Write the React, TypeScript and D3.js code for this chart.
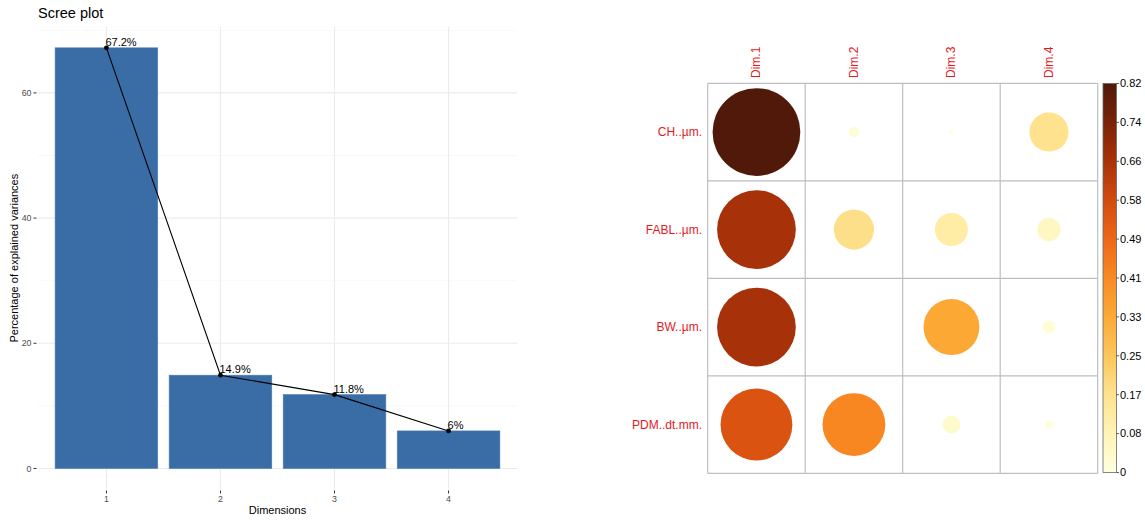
import React from "react";
import * as d3 from "d3";

// Scree plot data: percentage of explained variance per dimension
const dimensions = ["1", "2", "3", "4"];
const explainedVariance = [67.2, 14.9, 11.8, 6.0];
const varianceLabels = ["67.2%", "14.9%", "11.8%", "6%"];
const yTicks = [0, 20, 40, 60];
const yMinorTicks = [10, 30, 50, 70];

// cos2 of variables on each dimension
const variables = ["CH..µm.", "FABL..µm.", "BW..µm.", "PDM..dt.mm."];
const dimNames = ["Dim.1", "Dim.2", "Dim.3", "Dim.4"];
const cos2CH = [0.82, 0.012, 0.0017, 0.163];
const cos2FABL = [0.66, 0.172, 0.117, 0.058];
const cos2BW = [0.66, 0.0003, 0.333, 0.017];
const cos2PDM = [0.55, 0.42, 0.035, 0.007];
const cos2Rows = [cos2CH, cos2FABL, cos2BW, cos2PDM];
const legendLabels = ["0", "0.08", "0.17", "0.25", "0.33", "0.41", "0.49", "0.58", "0.66", "0.74", "0.82"];
const cos2Max = 0.82;

// sequential palette (light yellow -> dark brown)
const paletteStops = [0, 0.1, 0.2, 0.3, 0.4, 0.5, 0.6, 0.7, 0.8, 0.9, 1];
const paletteColors = [
  "#FFFFDE", "#FFF4B6", "#FEE28E", "#FDC65A", "#FBAA36", "#F98A23",
  "#EE6716", "#D24B0F", "#A93208", "#7A2208", "#511909",
];

const FONT = "'Liberation Sans', Arial, sans-serif";

function ScreePlot() {
  const left = 38, right = 517, top = 26.8, bottom = 489.5;
  const x = d3.scalePoint<string>().domain(dimensions).range([left, right]).padding(0.6);
  const step = x.step();
  const barW = step * 0.9;
  const y = d3.scaleLinear().domain([-3.36, 70.56]).range([bottom, top]);
  const line = d3
    .line<number>()
    .x((_, i) => x(dimensions[i]) as number)
    .y((d) => y(d));

  return (
    <g fontFamily={FONT}>
      <text x={38} y={18} fontSize={14.5} fill="#000">Scree plot</text>
      {/* grid */}
      {yMinorTicks.map((t) => (
        <line key={"mi" + t} x1={left} x2={right} y1={y(t)} y2={y(t)} stroke="#F3F3F3" strokeWidth={0.6} />
      ))}
      {yTicks.map((t) => (
        <line key={"ma" + t} x1={left} x2={right} y1={y(t)} y2={y(t)} stroke="#EBEBEB" strokeWidth={1.1} />
      ))}
      {dimensions.map((d) => (
        <line key={"v" + d} x1={x(d)} x2={x(d)} y1={top} y2={bottom} stroke="#EBEBEB" strokeWidth={1.1} />
      ))}
      {/* bars */}
      {explainedVariance.map((v, i) => (
        <rect
          key={"b" + i}
          x={(x(dimensions[i]) as number) - barW / 2}
          y={y(v)}
          width={barW}
          height={y(0) - y(v)}
          fill="#3A6CA5"
          stroke="#4A7CB4"
          strokeWidth={0.6}
        />
      ))}
      <path d={line(explainedVariance) || ""} fill="none" stroke="#000" strokeWidth={1.1} />
      {explainedVariance.map((v, i) => (
        <circle key={"p" + i} cx={x(dimensions[i])} cy={y(v)} r={2.4} fill="#000" />
      ))}
      {explainedVariance.map((v, i) => (
        <text key={"l" + i} x={(x(dimensions[i]) as number) - 1} y={y(v) - 2} fontSize={11} fill="#000">
          {varianceLabels[i]}
        </text>
      ))}
      {/* axes */}
      {yTicks.map((t) => (
        <g key={"yt" + t}>
          <line x1={33.5} x2={36.5} y1={y(t)} y2={y(t)} stroke="#333" strokeWidth={1} />
          <text x={31.5} y={y(t)} dy="0.35em" fontSize={8.8} fill="#4D4D4D" textAnchor="end">{t}</text>
        </g>
      ))}
      {dimensions.map((d) => (
        <g key={"xt" + d}>
          <line x1={x(d)} x2={x(d)} y1={490.5} y2={493.5} stroke="#333" strokeWidth={1} />
          <text x={x(d)} y={502} fontSize={8.8} fill="#4D4D4D" textAnchor="middle">{d}</text>
        </g>
      ))}
      <text x={(left + right) / 2} y={514} fontSize={11} fill="#000" textAnchor="middle">Dimensions</text>
      <text
        transform={`translate(18,${(top + bottom) / 2}) rotate(-90)`}
        fontSize={11}
        fill="#000"
        textAnchor="middle"
      >
        Percentage of explained variances
      </text>
    </g>
  );
}

function Cos2Plot() {
  const gx0 = 707.7, gx1 = 1097.7, gy0 = 83.3, gy1 = 473.3;
  const xs = d3.scaleBand<string>().domain(dimNames).range([gx0, gx1]);
  const ys = d3.scaleBand<string>().domain(variables).range([gy0, gy1]);
  const cell = xs.bandwidth();
  const rScale = d3.scaleSqrt().domain([0, cos2Max]).range([0, (cell * 0.9) / 2]);
  const color = d3
    .scaleLinear<string>()
    .domain(paletteStops.map((s) => s * cos2Max))
    .range(paletteColors)
    .interpolate(d3.interpolateRgb);

  const barX = 1103, barW = 13.5;
  const legY = d3.scaleLinear().domain([0, legendLabels.length - 1]).range([472.5, 83.5]);

  return (
    <g fontFamily={FONT}>
      {/* circles */}
      {cos2Rows.map((row, ri) =>
        row.map((v, ci) => (
          <circle
            key={`c${ri}-${ci}`}
            cx={(xs(dimNames[ci]) as number) + cell / 2}
            cy={(ys(variables[ri]) as number) + cell / 2}
            r={rScale(v)}
            fill={color(v)}
          />
        ))
      )}
      {/* grid */}
      {d3.range(dimNames.length + 1).map((i) => (
        <line key={"gx" + i} x1={gx0 + i * cell} x2={gx0 + i * cell} y1={gy0} y2={gy1} stroke="#BEBEBE" strokeWidth={1.2} />
      ))}
      {d3.range(variables.length + 1).map((i) => (
        <line key={"gy" + i} x1={gx0} x2={gx1} y1={gy0 + i * cell} y2={gy0 + i * cell} stroke="#BEBEBE" strokeWidth={1.2} />
      ))}
      {/* labels */}
      {dimNames.map((d) => (
        <text
          key={"dn" + d}
          transform={`translate(${(xs(d) as number) + cell / 2 + 4},78) rotate(-90)`}
          fontSize={12}
          fill="#E41A1C"
        >
          {d}
        </text>
      ))}
      {variables.map((v) => (
        <text
          key={"vn" + v}
          x={702}
          y={(ys(v) as number) + cell / 2}
          dy="0.35em"
          fontSize={12}
          fill="#E41A1C"
          textAnchor="end"
        >
          {v}
        </text>
      ))}
      {/* colour legend */}
      <defs>
        <linearGradient id="cos2grad" x1="0" x2="0" y1="1" y2="0">
          {paletteStops.map((s, i) => (
            <stop key={"s" + i} offset={s} stopColor={paletteColors[i]} />
          ))}
        </linearGradient>
      </defs>
      <rect x={barX} y={83.5} width={barW} height={389} fill="url(#cos2grad)" stroke="#666" strokeWidth={0.8} />
      {legendLabels.map((l, i) => (
        <g key={"lg" + i}>
          <line x1={barX + barW} x2={barX + barW + 2.5} y1={legY(i)} y2={legY(i)} stroke="#333" strokeWidth={0.8} />
          <text x={barX + barW + 3.5} y={legY(i)} dy="0.35em" fontSize={11} fill="#000">{l}</text>
        </g>
      ))}
    </g>
  );
}

export default function App() {
  return (
    <svg width={1145} height={520} style={{ display: "block", position: "absolute", left: 0, top: 0, background: "#fff" }}>
      <rect width={1145} height={520} fill="#fff" />
      <ScreePlot />
      <Cos2Plot />
    </svg>
  );
}
